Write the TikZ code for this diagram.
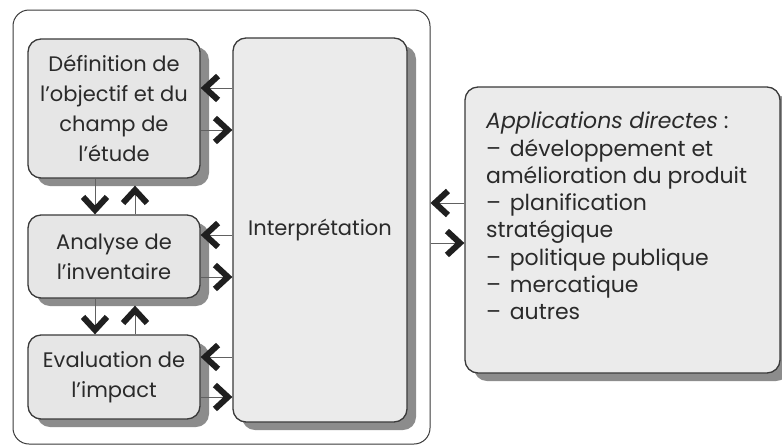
\documentclass[tikz,border=0pt]{standalone}
\usepackage{fontspec}
\setmainfont{Poppins}
\usetikzlibrary{shadows,arrows.meta}
\definecolor{boxfill}{HTML}{E6E6E6}
\definecolor{interfill}{HTML}{EBEBEB}
\definecolor{edge}{HTML}{3A3A3A}
\definecolor{txt}{HTML}{2A2A2A}
\begin{document}
\begin{tikzpicture}[x=1pt,y=-1pt,
  stepbox/.style={draw=edge, line width=1.3pt, rounded corners=13pt, fill=boxfill,
    drop shadow={shadow xshift=9pt, shadow yshift=-8pt, fill=black!45, opacity=1},
    text=txt, align=center, inner sep=0pt,
    font=\fontsize{21pt}{30pt}\selectfont},
  arr/.style={draw=edge!80, line width=0.8pt,
    -{Straight Barb[length=13pt,width=24pt,line width=6pt,sharp,color=black!88]}}
]
\useasboundingbox (0,0) rectangle (782,445);
\fill[white] (0,0) rectangle (782,445);
% outer frame
\node[draw=edge, line width=1pt, rounded corners=16pt, minimum width=417pt, minimum height=434pt, inner sep=0pt] (frame) at (221.5,227) {};
% boxes
\node[stepbox, minimum width=172pt, minimum height=139pt] (def) at (114,108.5)
  {D\'efinition de\\l'objectif et du\\champ de\\l'\'etude};
\node[stepbox, minimum width=172pt, minimum height=83pt] (ana) at (114,256.5)
  {Analyse de\\l'inventaire};
\node[stepbox, minimum width=172pt, minimum height=84pt] (eva) at (114,377)
  {Evaluation de\\l'impact};
\node[stepbox, fill=interfill, minimum width=174pt, minimum height=384pt] (int) at (320,230)
  {Interpr\'etation};
\node[stepbox, fill=interfill, minimum width=315pt, minimum height=286pt] (app) at (622.5,230) {};
\node[anchor=west, align=left, inner sep=0pt, text=txt,
  font=\fontsize{22pt}{27.3pt}\selectfont] (apptext) at (486,216)
  {\textit{Applications directes} :\\
   --\hspace{0.4em}d\'eveloppement et\\
   am\'elioration du produit\\
   --\hspace{0.4em}planification\\
   strat\'egique\\
   --\hspace{0.4em}politique publique\\
   --\hspace{0.4em}mercatique\\
   --\hspace{0.4em}autres};
% horizontal arrows between boxes and interpretation
\draw[arr] (int.west |- 0,88) -- (def.east |- 0,88);
\draw[arr] (def.east |- 0,130) -- (int.west |- 0,130);
\draw[arr] (int.west |- 0,235) -- (ana.east |- 0,235);
\draw[arr] (ana.east |- 0,277) -- (int.west |- 0,277);
\draw[arr] (int.west |- 0,357) -- (eva.east |- 0,357);
\draw[arr] (eva.east |- 0,397) -- (int.west |- 0,397);
% vertical arrows
\draw[arr] (def.south -| 95,0) -- (ana.north -| 95,0);
\draw[arr, shorten >=7pt] (ana.north -| 135,0) -- (def.south -| 135,0);
\draw[arr] (ana.south -| 95,0) -- (eva.north -| 95,0);
\draw[arr, shorten >=7pt] (eva.north -| 135,0) -- (ana.south -| 135,0);
% arrows to applications
\draw[arr] (app.west |- 0,203) -- (frame.east |- 0,203);
\draw[arr] (frame.east |- 0,243) -- (app.west |- 0,243);
\end{tikzpicture}
\end{document}
